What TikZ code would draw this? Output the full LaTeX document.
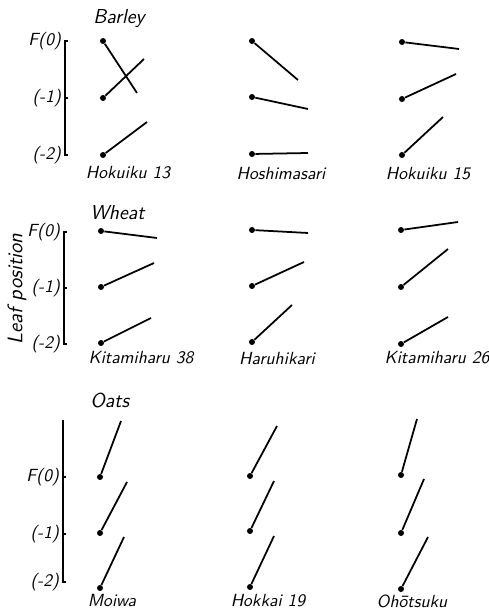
\documentclass[tikz,border=0pt]{standalone}
\usepackage{fontspec}
\usepackage{tikz}

\tikzset{
  leafdot/.style={circle,fill=black,inner sep=0pt,minimum size=0.12cm},
  growline/.style={line width=1pt},
  axisline/.style={line width=0.6pt},
  cultivar/.style={font=\sffamily\itshape},
  crop/.style={font=\fontsize{11.5}{13}\sffamily\itshape,anchor=base west,inner sep=0pt},
  poslabel/.style={font=\sffamily\itshape,anchor=east,inner sep=1pt}
}

\begin{document}
\begin{tikzpicture}[x=0.02cm,y=-0.02cm]
             \useasboundingbox (0,0) rectangle (489,614);

             \node[font=\sffamily\itshape\large,rotate=90] (leafpos) at (17,289) {Leaf position};

             % Barley
             \node[crop] (barley) at (93,24) {Barley};
             \node[poslabel] (bf) at (63,41) {F(0)};
             \node[poslabel] (bm) at (63,98) {(-1)};
             \node[poslabel] (bl) at (63,155) {(-2)};
             \coordinate (bax0) at (65,41);
             \coordinate (bax1) at (65,98);
             \coordinate (bax2) at (65,155);
             \draw[axisline] (bax0) ++(3,0) -- (bax0) -- (bax2) -- ++(3,0);
             \draw[axisline] (bax1) -- ++(3,0);

             \node[leafdot] (b11) at (103,41) {};
             \node[leafdot] (b12) at (103,98) {};
             \node[leafdot] (b13) at (103,155) {};
             \draw[growline] (b11) -- (137,93) coordinate (b11e);
             \draw[growline] (b12) -- (144,59) coordinate (b12e);
             \draw[growline] (b13) -- (147,122) coordinate (b13e);
             \node[cultivar] (hok13) at (128,173) {Hokuiku 13};

             \node[leafdot] (b21) at (252,41) {};
             \node[leafdot] (b22) at (252,97) {};
             \node[leafdot] (b23) at (252,154) {};
             \draw[growline] (b21) -- (298,80) coordinate (b21e);
             \draw[growline] (b22) -- (308,109) coordinate (b22e);
             \draw[growline] (b23) -- (308,153) coordinate (b23e);
             \node[cultivar] (hoshi) at (281,174) {Hoshimasari};

             \node[leafdot] (b31) at (402,42) {};
             \node[leafdot] (b32) at (402,99) {};
             \node[leafdot] (b33) at (402,155) {};
             \draw[growline] (b31) -- (459,49) coordinate (b31e);
             \draw[growline] (b32) -- (456,74) coordinate (b32e);
             \draw[growline] (b33) -- (443,117) coordinate (b33e);
             \node[cultivar] (hok15) at (428,174) {Hokuiku 15};

             % Wheat
             \node[crop] (wheat) at (90,220) {Wheat};
             \node[poslabel] (wf) at (62,232) {F(0)};
             \node[poslabel] (wm) at (62,288) {(-1)};
             \node[poslabel] (wl) at (62,344) {(-2)};
             \coordinate (wax0) at (64,232);
             \coordinate (wax1) at (64,288);
             \coordinate (wax2) at (64,344);
             \draw[axisline] (wax0) ++(3,0) -- (wax0) -- (wax2) -- ++(3,0);
             \draw[axisline] (wax1) -- ++(3,0);

             \node[leafdot] (w11) at (101,231) {};
             \node[leafdot] (w12) at (101,287) {};
             \node[leafdot] (w13) at (101,343) {};
             \draw[growline] (w11) -- (157,238) coordinate (w11e);
             \draw[growline] (w12) -- (154,263) coordinate (w12e);
             \draw[growline] (w13) -- (151,318) coordinate (w13e);
             \node[cultivar] (kit38) at (141,358) {Kitamiharu 38};

             \node[leafdot] (w21) at (252,230) {};
             \node[leafdot] (w22) at (252,286) {};
             \node[leafdot] (w23) at (252,342) {};
             \draw[growline] (w21) -- (308,233) coordinate (w21e);
             \draw[growline] (w22) -- (304,262) coordinate (w22e);
             \draw[growline] (w23) -- (292,305) coordinate (w23e);
             \node[cultivar] (haru) at (277,358) {Haruhikari};

             \node[leafdot] (w31) at (401,230) {};
             \node[leafdot] (w32) at (401,287) {};
             \node[leafdot] (w33) at (401,344) {};
             \draw[growline] (w31) -- (458,222) coordinate (w31e);
             \draw[growline] (w32) -- (448,249) coordinate (w32e);
             \draw[growline] (w33) -- (448,317) coordinate (w33e);
             \node[cultivar] (kit26) at (437,358) {Kitamiharu 26};

             % Oats
             \node[crop] (oats) at (90,407) {Oats};
             \node[poslabel] (of) at (61,477) {F(0)};
             \node[poslabel] (om) at (61,534) {(-1)};
             \node[poslabel] (ol) at (61,582) {(-2)};
             \coordinate (oaxt) at (63,420);
             \coordinate (oax0) at (63,477);
             \coordinate (oax1) at (63,534);
             \coordinate (oax2) at (63,582);
             \draw[axisline] (oaxt) -- (oax2) -- ++(3,0);
             \draw[axisline] (oax0) -- ++(3,0);
             \draw[axisline] (oax1) -- ++(3,0);

             \node[leafdot] (o11) at (100,477) {};
             \node[leafdot] (o12) at (100,533) {};
             \node[leafdot] (o13) at (100,588) {};
             \draw[growline] (o11) -- (121,421) coordinate (o11e);
             \draw[growline] (o12) -- (127,482) coordinate (o12e);
             \draw[growline] (o13) -- (124,537) coordinate (o13e);
             \node[cultivar] (moiwa) at (112,600) {Moiwa};

             \node[leafdot] (o21) at (250,476) {};
             \node[leafdot] (o22) at (250,531) {};
             \node[leafdot] (o23) at (250,587) {};
             \draw[growline] (o21) -- (277,426) coordinate (o21e);
             \draw[growline] (o22) -- (274,481) coordinate (o22e);
             \draw[growline] (o23) -- (274,536) coordinate (o23e);
             \node[cultivar] (hokk19) at (268,601) {Hokkai 19};

             \node[leafdot] (o31) at (401,475) {};
             \node[leafdot] (o32) at (401,533) {};
             \node[leafdot] (o33) at (401,589) {};
             \draw[growline] (o31) -- (417,419) coordinate (o31e);
             \draw[growline] (o32) -- (424,479) coordinate (o32e);
             \draw[growline] (o33) -- (428,537) coordinate (o33e);
             \node[cultivar] (ohot) at (412,601) {Ohōtsuku};
\end{tikzpicture}
\end{document}
